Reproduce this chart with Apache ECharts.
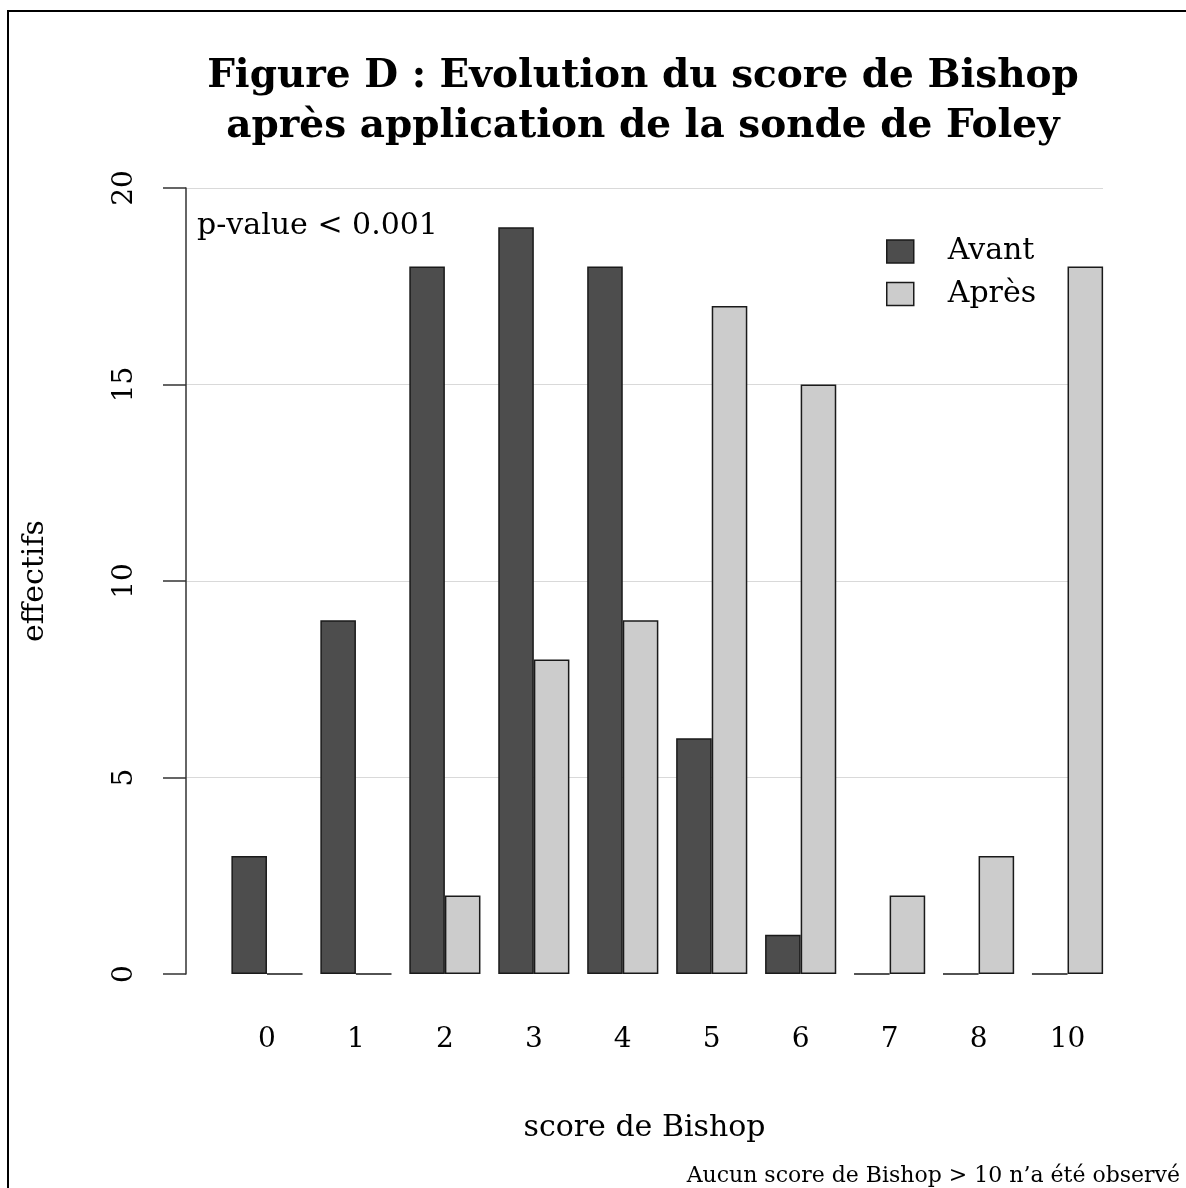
<!DOCTYPE html>
<html>
<head>
<meta charset="utf-8">
<script src="https://cdn.jsdelivr.net/npm/echarts@6/dist/echarts.min.js"></script>
<style>
html,body{margin:0;padding:0;background:#fff;}
#chart{width:1186px;height:1188px;}
</style>
</head>
<body>
<div id="chart"></div>
<script>
const categories = ['0','1','2','3','4','5','6','7','8','10'];
const avant = [3, 9, 18, 19, 18, 6, 1, 0, 0, 0];
const apres = [0, 0, 2, 8, 9, 17, 15, 2, 3, 18];
const yMin = 0, yMax = 20, yInterval = 5;
const seriesNames = ['Avant', 'Après'];
const titleText = 'Figure D : Evolution du score de Bishop\naprès application de la sonde de Foley';
const pText = 'p-value < 0.001';
const noteText = 'Aucun score de Bishop > 10 n\u2019a été observé';
const xName = 'score de Bishop';
const yName = 'effectifs';

const FONT = '"DejaVu Serif", "Liberation Serif", serif';
const FS = 30;      // names, legend, annotation
const FT = 28;      // tick labels
const chart = echarts.init(document.getElementById('chart'), null, {renderer: 'canvas'});

const option = {
  backgroundColor: '#fff',
  animation: false,
  textStyle: {fontFamily: FONT},
  title: [
    {
      text: titleText, left: 643, top: 52, textAlign: 'center', padding: 0,
      textStyle: {fontFamily: FONT, fontWeight: 'bold', fontSize: 39, lineHeight: 50, color: '#000'}
    },
    {
      text: pText, left: 197, top: 208, padding: 0,
      textStyle: {fontFamily: FONT, fontWeight: 'normal', fontSize: FS, lineHeight: 36, color: '#000'}
    },
    {
      text: noteText, right: 6, top: 1164, padding: 0,
      textStyle: {fontFamily: FONT, fontWeight: 'normal', fontSize: 22, lineHeight: 24, color: '#000'}
    }
  ],
  legend: {
    data: seriesNames, orient: 'vertical', left: 886, top: 235.5, padding: 0,
    itemWidth: 27, itemHeight: 23, itemGap: 10.5, icon: 'rect',
    textStyle: {fontFamily: FONT, fontSize: FS, lineHeight: 32, color: '#000', padding: [0, 0, 0, 29]},
    itemStyle: {borderColor: '#1a1a1a', borderWidth: 1.5}
  },
  graphic: [
    {type: 'rect', shape: {x: 8, y: 11, width: 1400, height: 1400}, style: {fill: 'none', stroke: '#000', lineWidth: 2}, z: 100, silent: true}
  ],
  grid: [
    {left: 222.5, right: 74, top: 188, bottom: 214},
    {left: 186, right: 83, top: 188, bottom: 214}
  ],
  xAxis: [
    {
      type: 'category', gridIndex: 0, data: categories,
      axisLine: {show: false}, axisTick: {show: false}, splitLine: {show: false},
      axisLabel: {fontFamily: FONT, fontSize: FT, lineHeight: 32, color: '#000', margin: 50}
    },
    {
      type: 'value', gridIndex: 1, min: 0, max: 1,
      axisLine: {show: false}, axisTick: {show: false}, splitLine: {show: false}, axisLabel: {show: false},
      name: xName, nameLocation: 'middle', nameGap: 138,
      nameTextStyle: {fontFamily: FONT, fontSize: FS, lineHeight: 32, color: '#000'}
    }
  ],
  yAxis: [
    {
      type: 'value', gridIndex: 0, min: yMin, max: yMax, interval: yInterval,
      show: false
    },
    {
      type: 'value', gridIndex: 1, min: yMin, max: yMax, interval: yInterval,
      axisLine: {show: true, lineStyle: {color: '#333', width: 1.5}},
      axisTick: {show: true, length: 23, lineStyle: {color: '#333', width: 1.5}},
      splitLine: {show: true, showMinLine: false, lineStyle: {color: '#d9d9d9', width: 1.2}},
      axisLabel: {rotate: 90, fontFamily: FONT, fontSize: FT, lineHeight: 32, color: '#000', margin: 45},
      name: yName, nameLocation: 'middle', nameGap: 135, nameRotate: 90,
      nameTextStyle: {fontFamily: FONT, fontSize: FS, lineHeight: 32, color: '#000'}
    }
  ],
  series: [
    {
      name: seriesNames[0], type: 'bar', xAxisIndex: 0, yAxisIndex: 0, data: avant,
      barWidth: '40%', barGap: '0%',
      itemStyle: {color: '#4d4d4d', borderColor: '#1a1a1a', borderWidth: 1.5},
      z: 3
    },
    {
      name: seriesNames[1], type: 'bar', xAxisIndex: 0, yAxisIndex: 0, data: apres,
      barWidth: '40%', barGap: '0%',
      itemStyle: {color: '#cccccc', borderColor: '#1a1a1a', borderWidth: 1.5},
      z: 3
    }
  ]
};
chart.setOption(option);
</script>
</body>
</html>
